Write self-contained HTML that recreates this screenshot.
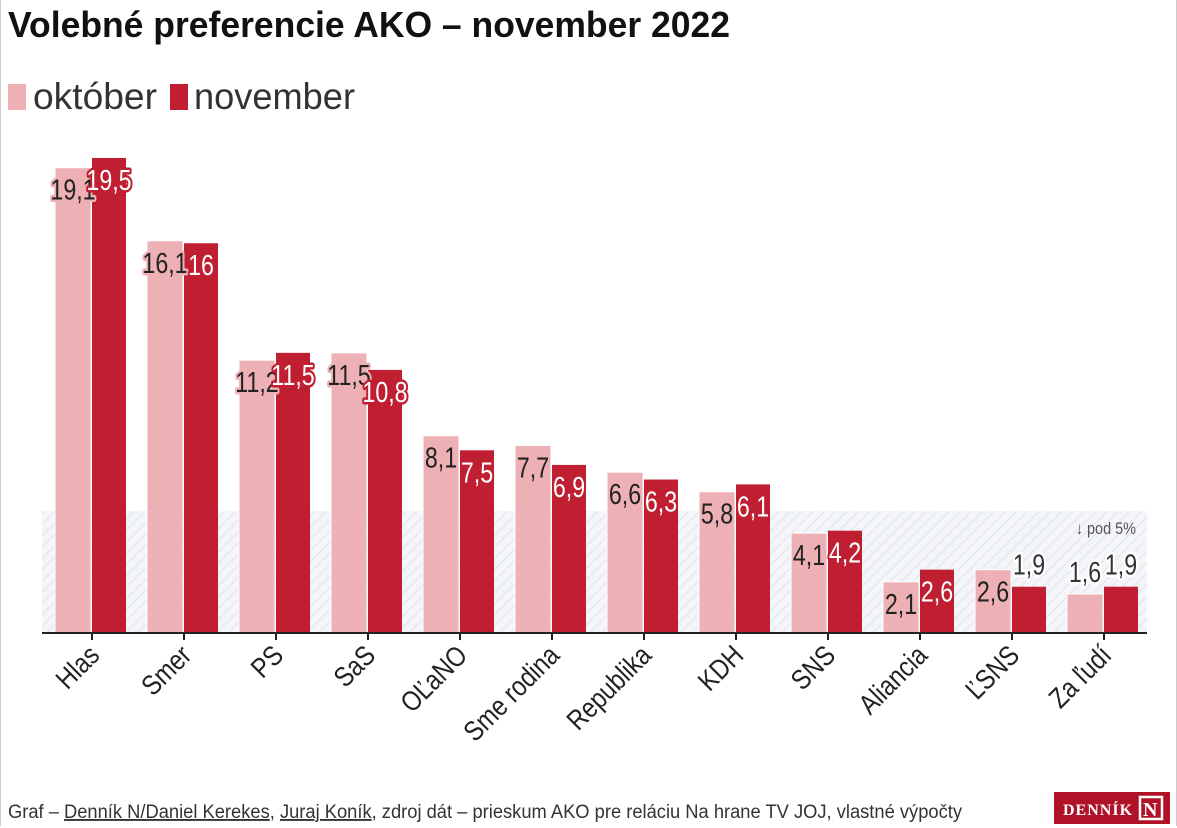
<!DOCTYPE html>
<html><head><meta charset="utf-8">
<style>
html,body{margin:0;padding:0;background:#fff;}
body{width:1177px;height:828px;overflow:hidden;position:relative;font-family:"Liberation Sans Narrow","Liberation Sans",sans-serif;}
.frame{position:absolute;left:0;top:0;width:1175px;height:826px;border-left:1px solid #ccc;border-right:1px solid #ccc;}
</style></head>
<body>
<div class="frame"></div>
<svg id="chart" width="1177" height="828" style="position:absolute;left:0;top:0">
<defs>
<pattern id="hatch" width="8" height="8" patternUnits="userSpaceOnUse" patternTransform="rotate(45)">
<rect width="8" height="8" fill="#f3f5f8"/>
<line x1="0" y1="0" x2="0" y2="8" stroke="#dfe4ea" stroke-width="2"/>
</pattern>
</defs>
<text x="8" y="37" font-size="36" font-weight="bold" fill="#111" textLength="722" lengthAdjust="spacingAndGlyphs">Volebné preferencie AKO – november 2022</text>
<g>
<rect x="8" y="84" width="18" height="26" fill="#edb1b5"/>
<text x="33" y="109" font-size="37" fill="#333" textLength="124" lengthAdjust="spacingAndGlyphs">október</text>
<rect x="170" y="84" width="18" height="26" fill="#c01f32"/>
<text x="194" y="109" font-size="37" fill="#333" textLength="161" lengthAdjust="spacingAndGlyphs">november</text>
</g>
<g id="plot"></g>
<text x="8" y="818" font-size="19" fill="#333" textLength="954" lengthAdjust="spacingAndGlyphs">Graf – <tspan text-decoration="underline">Denník N/Daniel Kerekes</tspan>, <tspan text-decoration="underline">Juraj Koník</tspan>, zdroj dát – prieskum AKO pre reláciu Na hrane TV JOJ, vlastné výpočty</text>
<g>
<rect x="1054" y="792" width="116" height="32" fill="#b01327"/>
<text x="1063" y="815" font-size="16" font-weight="bold" fill="#fff" font-family="Liberation Serif, serif" letter-spacing="1">DENNÍK</text>
<rect x="1140" y="797" width="22" height="22" fill="none" stroke="#fff" stroke-width="2.5"/>
<text x="1143" y="816" font-size="20" font-weight="bold" fill="#fff" font-family="Liberation Serif, serif">N</text>
</g>
</svg>
<script>
const categories=["Hlas","Smer","PS","SaS","OĽaNO","Sme rodina","Republika","KDH","SNS","Aliancia","ĽSNS","Za ľudí"];
const october=[19.1,16.1,11.2,11.5,8.1,7.7,6.6,5.8,4.1,2.1,2.6,1.6];
const november=[19.5,16,11.5,10.8,7.5,6.9,6.3,6.1,4.2,2.6,1.9,1.9];
const threshold=5;
const NS="http://www.w3.org/2000/svg";
const plot=document.getElementById('plot');
const baseY=633, unit=24.36, x0=55, step=92;
const y=v=>baseY-v*unit;
const gx=i=>x0+i*step;
function mk(tag,attrs){const e=document.createElementNS(NS,tag);for(const k in attrs)e.setAttribute(k,attrs[k]);plot.appendChild(e);return e;}
const band=mk('rect',{x:42,y:y(threshold),width:1105,height:baseY-y(threshold),fill:'url(#hatch)'});


const bl=mk('text',{x:0,y:0,'font-size':17,fill:'#555','text-anchor':'end',transform:`translate(1136,${y(threshold)+23}) scale(0.85,1)`});
bl.textContent='↓ pod 5%';


function label(cx,v,top,bg,fg){
  const txt=String(v).replace('.',',');
  let ty, fill, stroke;
  if(v>=2){ty=top+32;fill=fg;stroke=bg;}else{ty=top-12;fill='#333';stroke='#fff';}
  const t=mk('text',{x:0,y:0,'font-size':29,'text-anchor':'middle',fill:fill,stroke:stroke,'stroke-width':5,'paint-order':'stroke','stroke-linejoin':'round',transform:`translate(${cx},${ty}) scale(0.8,1)`});
  t.textContent=txt;
  return t;
}
categories.forEach((c,i)=>{
  const x=gx(i);
  const b1=mk('rect',{x:x,y:y(october[i]),width:36,height:baseY-y(october[i]),fill:'#edb1b5',stroke:'#fff','stroke-width':1});
  
  
  const b2=mk('rect',{x:x+37,y:y(november[i]),width:34,height:baseY-y(november[i]),fill:'#c01f32'});
  
  
  const l1=label(x+18,october[i],y(october[i]),'#edb1b5','#222');
  
  
  const l2=label(x+54,november[i],y(november[i]),'#c01f32','#fff');
  
  
  const tk=mk('line',{x1:x+37,y1:baseY,x2:x+37,y2:baseY+7,stroke:'#222','stroke-width':2});
  
  
  const tl=mk('text',{x:0,y:0,'font-size':28,fill:'#222','text-anchor':'end',transform:`translate(${x+46},${baseY+24}) rotate(-45) scale(0.85,1)`});
  tl.textContent=c;
  
  
});
const ax=mk('line',{x1:42,y1:baseY,x2:1147,y2:baseY,stroke:'#222','stroke-width':2});


</script>
</body></html>
